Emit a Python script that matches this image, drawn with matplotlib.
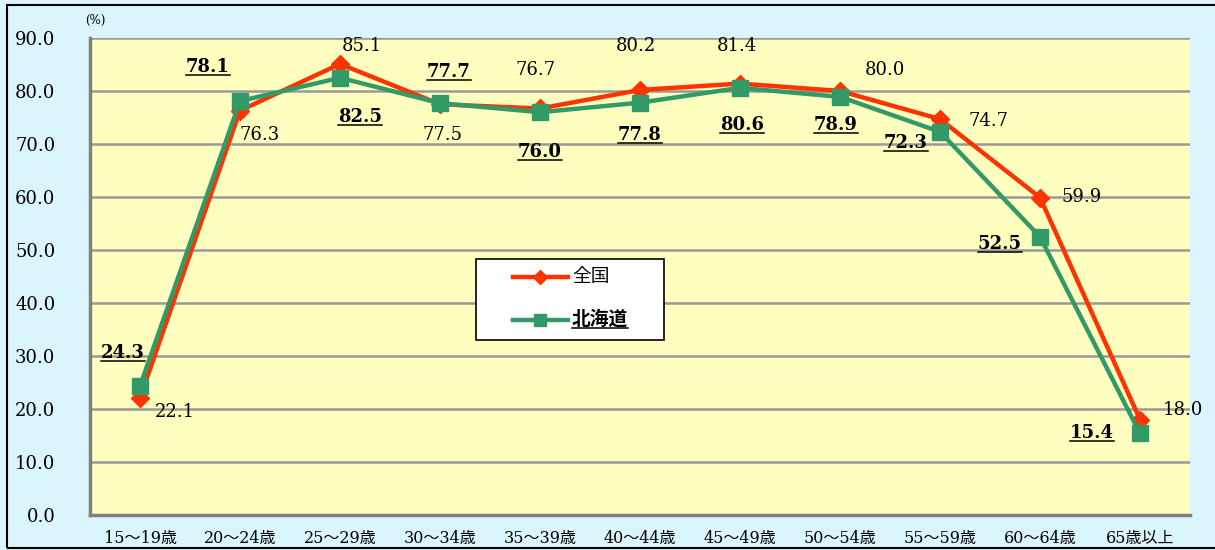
import matplotlib
matplotlib.use('Agg')
import matplotlib.pyplot as plt
from matplotlib.lines import Line2D
from matplotlib.patches import Rectangle

plt.rcParams['font.family'] = ['DejaVu Serif', 'Noto Sans CJK JP']

# data
ages = ['15～19歳', '20～24歳', '25～29歳', '30～34歳', '35～39歳', '40～44歳',
        '45～49歳', '50～54歳', '55～59歳', '60～64歳', '65歳以上']
zenkoku = [22.1, 76.3, 85.1, 77.5, 76.7, 80.2, 81.4, 80.0, 74.7, 59.9, 18.0]
hokkaido = [24.3, 78.1, 82.5, 77.7, 76.0, 77.8, 80.6, 78.9, 72.3, 52.5, 15.4]
yticks = [0, 10, 20, 30, 40, 50, 60, 70, 80, 90]
series_names = ['全国', '北海道']

# label offsets in pixels (dx, dy)
off_zen = [(35, -14), (20, -24), (22, 18), (3, -31), (-4, 38), (-4, 44),
           (-3, 38), (45, 21), (48, -2), (42, 1), (43, 10)]
off_hok = [(-17, 33), (-32, 34), (20, -39), (9, 31), (0, -40), (0, -32),
           (2, -37), (-4, -28), (-34, -11), (-40, -7), (-48, 0)]

RED = '#FF3300'
GREEN = '#339966'
W, H = 1215, 550

fig = plt.figure(figsize=(W / 100, H / 100), dpi=100, facecolor='#DBF5FC')
ax = fig.add_axes([90/W, 35/H, 1100/W, 477/H])
ax.set_facecolor('#FFFFC0')

x = list(range(len(ages)))
ax.plot(x, zenkoku, color=RED, lw=3.2, marker='D', ms=9, zorder=3)
ax.plot(x, hokkaido, color=GREEN, lw=3.2, marker='s', ms=11, zorder=4)

ax.set_xlim(-0.5, len(ages) - 0.5)
ax.set_ylim(0, 90)
ax.set_yticks(yticks)
ax.set_yticklabels(['%.1f' % v for v in yticks], fontsize=13)
ax.set_xticks(x)
ax.set_xticklabels(ages, fontsize=11.5)
ax.tick_params(length=0)
ax.tick_params(axis='y', pad=25)
ax.tick_params(axis='x', pad=11)
ax.yaxis.grid(True, color='#999999', lw=1.8)
ax.set_axisbelow(True)
for s in ['top', 'right']:
    ax.spines[s].set_visible(False)
for s in ['left', 'bottom']:
    ax.spines[s].set_color('#808080')
    ax.spines[s].set_linewidth(2.5)

fig.text(95/W, 1 - 20/H, '(%)', fontsize=8.5, ha='center', va='center')

underlined = []
for i in x:
    ax.annotate('%.1f' % zenkoku[i], (i, zenkoku[i]), xytext=off_zen[i],
                textcoords='offset pixels', ha='center', va='center',
                fontsize=13, zorder=5)
    t = ax.annotate('%.1f' % hokkaido[i], (i, hokkaido[i]), xytext=off_hok[i],
                    textcoords='offset pixels', ha='center', va='center',
                    fontsize=13, fontweight='bold', zorder=5)
    underlined.append(t)

# legend box drawn by hand (wide box like the original)
fig.patches.append(Rectangle((476/W, 1 - 340/H), 188/W, 81/H, transform=fig.transFigure,
                             facecolor='white', edgecolor='black', lw=1.2, zorder=6))
for row, (col, mk, ms, name) in enumerate([(RED, 'D', 7, series_names[0]),
                                           (GREEN, 's', 8, series_names[1])]):
    yy = 1 - (277 + row * 43) / H
    fig.add_artist(Line2D([513/W, 568/W], [yy, yy], transform=fig.transFigure,
                          color=col, lw=3.2, zorder=7))
    fig.add_artist(Line2D([540/W], [yy], transform=fig.transFigure, color=col,
                          marker=mk, ms=ms, zorder=7))
    t = fig.text(572/W, yy, name, fontsize=13.5, ha='left', va='center', zorder=7,
                 fontweight='bold' if row == 1 else 'normal')
    if row == 1:
        underlined.append(t)

# outer border
fig.patches.append(Rectangle((7/W, 2/H), 1.0, 543/H, transform=fig.transFigure,
                             fill=False, edgecolor='black', lw=1.5))

fig.canvas.draw()
r = fig.canvas.get_renderer()
for t in underlined:
    bb = t.get_window_extent(r)
    y = bb.y0 + 1
    fig.add_artist(Line2D([bb.x0 / W, bb.x1 / W], [y / H, y / H],
                          transform=fig.transFigure, color='black', lw=1.1, zorder=8))

fig.savefig('out.png', dpi=100, facecolor=fig.get_facecolor())
